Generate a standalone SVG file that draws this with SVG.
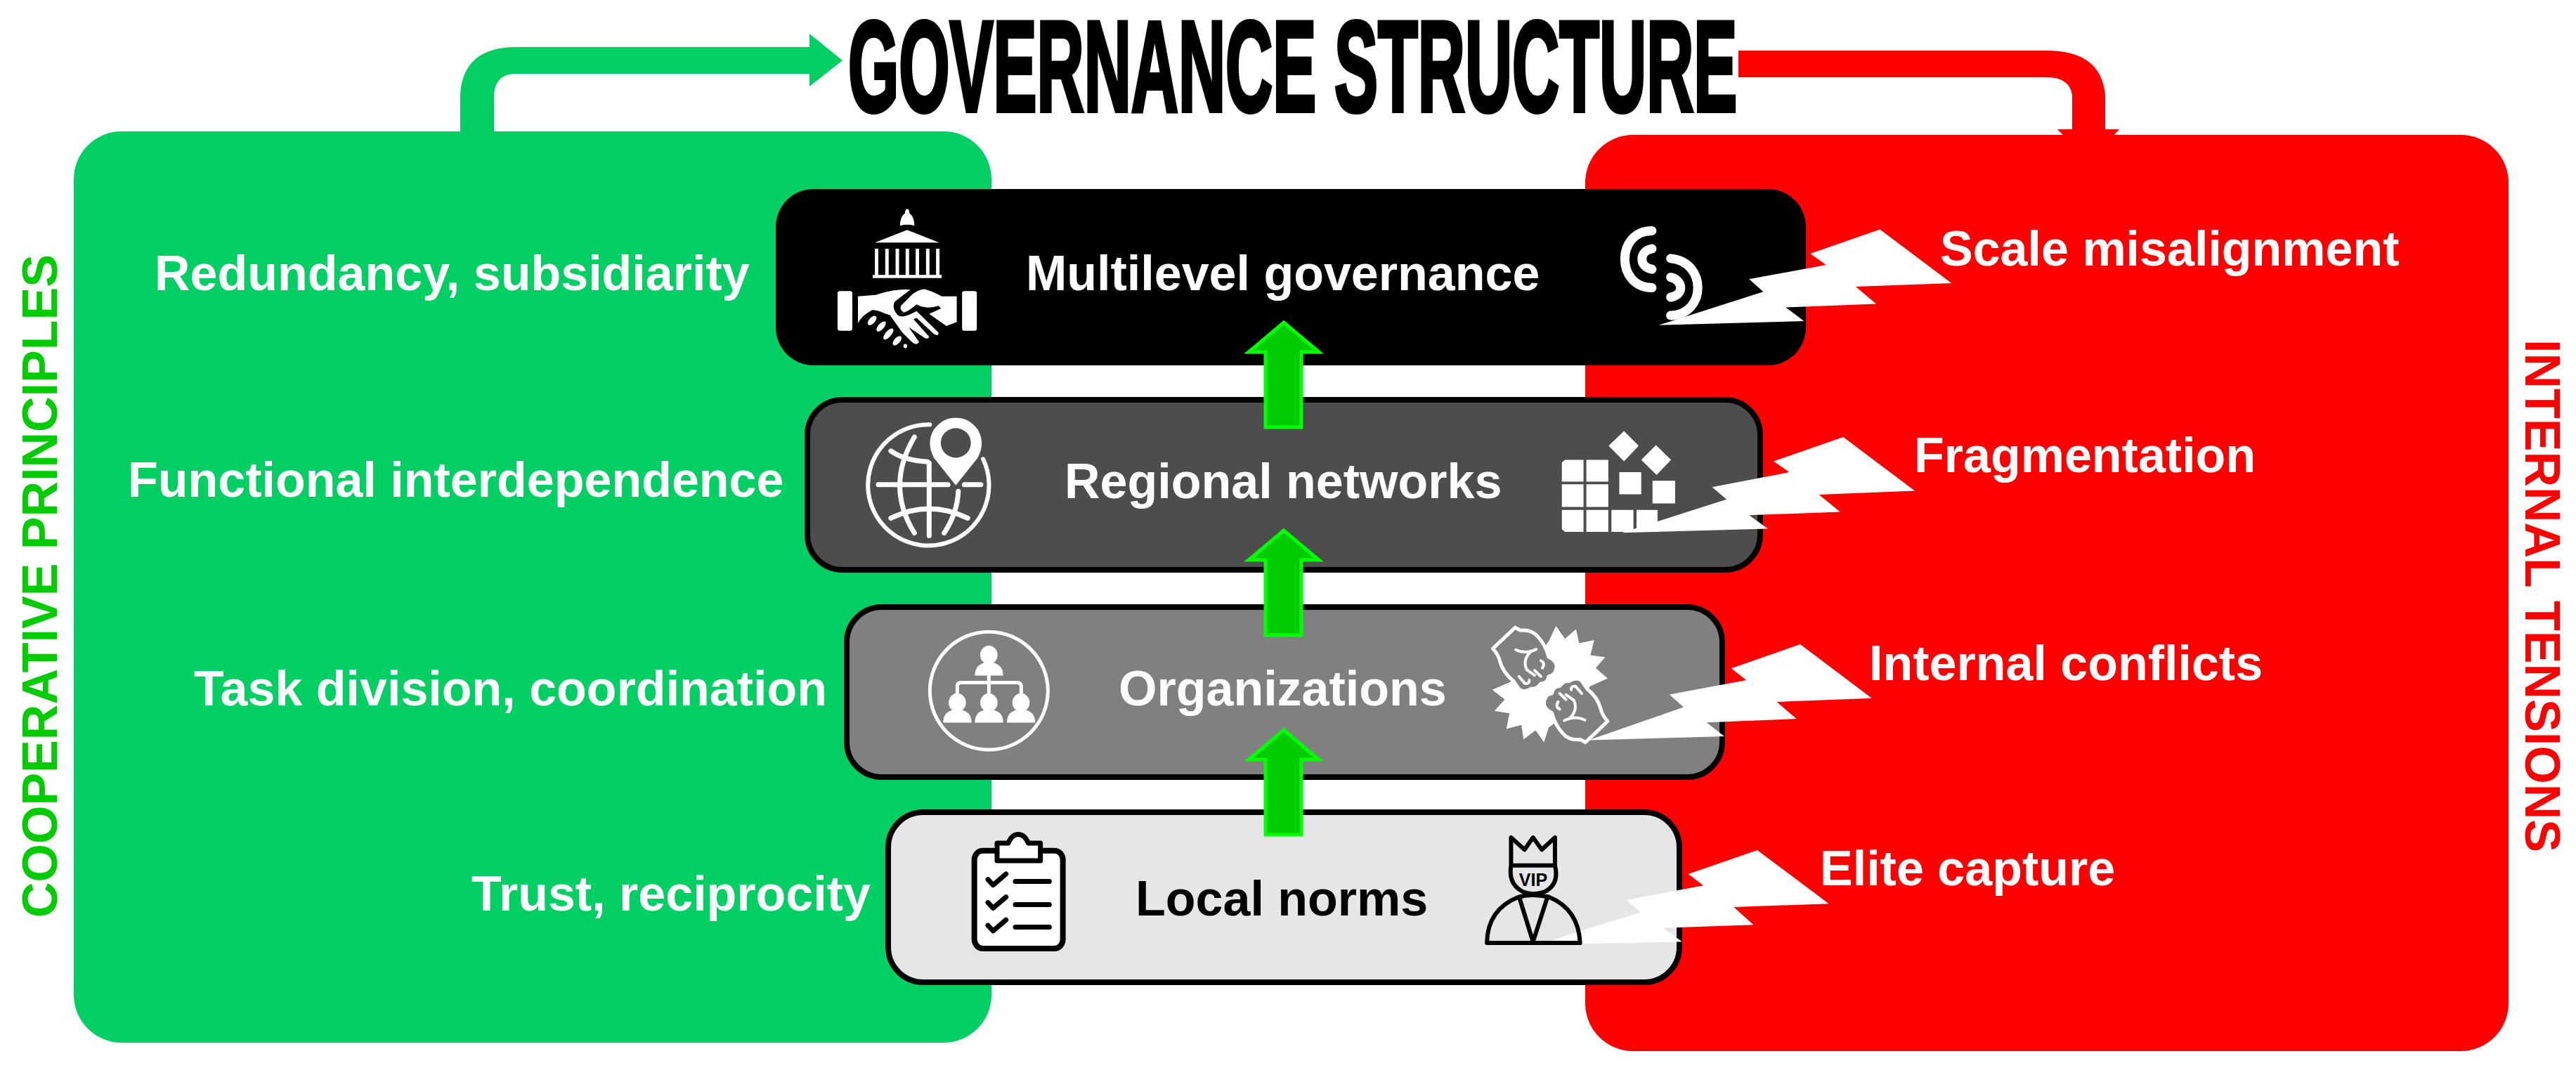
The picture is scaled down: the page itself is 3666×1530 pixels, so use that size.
<svg xmlns="http://www.w3.org/2000/svg" width="3666" height="1530" viewBox="0 0 3666 1530">
<style>
text{font-family:"Liberation Sans",Arial,sans-serif;font-weight:700;font-size:70px}
.w{fill:#fff}.k{fill:#000}
.ws{fill:none;stroke:#fff;stroke-linecap:round;stroke-linejoin:round;vector-effect:non-scaling-stroke}
.ks{fill:none;stroke:#000;stroke-linecap:round;stroke-linejoin:round;vector-effect:non-scaling-stroke}
.up{fill:#00cc00;stroke:#00ff00;stroke-width:5}
.bolt{fill:#fff}
.box{stroke:#000;stroke-width:8}
.fist{fill:#808080;stroke:#fff;stroke-width:5;stroke-linejoin:round;vector-effect:non-scaling-stroke}
</style>
<defs>
<g id="fist">
<path class="fist" d="M238 38L167 125Q185 150 190 180Q200 225 232 258L250 292Q265 310 290 290Q305 295 320 270Q340 270 345 240Q370 235 370 195Q365 170 345 160Q335 110 310 75Q290 45 255 50Z"/>
<path class="ws" stroke-width="4" d="M240 130Q270 150 305 128M290 135Q260 170 275 212L300 235M320 175Q335 185 325 205M300 215L320 240M250 240L270 270Q285 270 283 255"/>
</g>
</defs>
<rect width="3666" height="1530" fill="#fff"/>
<g id="panel-cooperative">
<rect x="105" y="187" width="1306" height="1297" rx="68" fill="#00cf64"/>
<text transform="translate(81,1306) rotate(-90)" fill="#00cc00">COOPERATIVE PRINCIPLES</text>
<text class="w" x="220" y="413">Redundancy, subsidiarity</text>
<text class="w" x="182" y="707">Functional interdependence</text>
<text class="w" x="276" y="1004">Task division, coordination</text>
<text class="w" x="671" y="1296">Trust, reciprocity</text>
</g>
<g id="panel-tensions">
<rect x="2256" y="192" width="1314" height="1304" rx="68" fill="#f00"/>
<text transform="translate(3594,483) rotate(90)" fill="#f00">INTERNAL TENSIONS</text>
<text class="w" x="2761" y="378">Scale misalignment</text>
<text class="w" x="2724" y="672">Fragmentation</text>
<text class="w" x="2660" y="968">Internal conflicts</text>
<text class="w" x="2590" y="1260">Elite capture</text>
</g>
<g id="title">
<text transform="translate(1207,158) scale(.508,1)" style="font-size:183px" stroke="#000" stroke-width="6" fill="#000">GOVERNANCE STRUCTURE</text>
</g>
<g id="node-multilevel">
<rect x="1104" y="269" width="1466" height="251" rx="54" fill="#000"/>
<text class="w" x="1460" y="413">Multilevel governance</text>
<g transform="translate(1050,240) scale(.4464,.3827)">
<path class="w" d="M540 150Q547 150 547 165Q563 180 563 212Q540 205 517 212Q517 180 533 165Q533 150 540 150Z"/>
<path class="w" d="M540 228L642 275L437 275Z"/>
<path class="w" d="M437 298h11v97h-11zM470 298h11v97h-11zM503 298h11v97h-11zM535 298h11v97h-11zM567 298h11v97h-11zM600 298h11v97h-11zM632 298h11v97h-11zM430 395h220v12H430z"/>
<rect class="w" x="318" y="455" width="47" height="148" rx="8"/>
<rect class="w" x="715" y="455" width="47" height="148" rx="8"/>
<path class="w" d="M383 475L440 470Q500 445 550 450L500 495Q490 520 510 545Q525 560 570 530L640 610Q640 625 625 615L570 555L560 560L610 625Q605 640 590 625L545 590L578 645Q570 660 555 645L525 610L485 545Q470 540 450 530L430 525Q395 545 383 575Z"/>
<path class="w" d="M698 475L650 475Q620 455 595 448Q570 450 550 475L520 510Q515 525 530 535Q545 530 570 505Q600 525 640 510L648 520L610 540L665 585L698 570Z"/>
<ellipse class="w" cx="428" cy="565" rx="10" ry="20" transform="rotate(35 428 565)"/>
<ellipse class="w" cx="457" cy="587" rx="10" ry="22" transform="rotate(35 457 587)"/>
<ellipse class="w" cx="480" cy="615" rx="10" ry="24" transform="rotate(35 480 615)"/>
<ellipse class="w" cx="508" cy="640" rx="10" ry="20" transform="rotate(35 508 640)"/>
<ellipse class="w" cx="534" cy="660" rx="6" ry="8"/>
</g>
<g transform="translate(2150,250) scale(.4464,.3827)">
<path class="ws" stroke-width="13" d="M450 205C335 205 335 415 450 417"/>
<path class="ws" stroke-width="13" d="M450 272C408 280 408 340 450 348"/>
<path class="ws" stroke-width="13" d="M510 308C625 320 625 515 510 520"/>
<path class="ws" stroke-width="13" d="M510 378C552 390 552 445 510 452"/>
</g>
</g>
<g id="node-regional">
<rect class="box" x="1149" y="569" width="1356" height="242" rx="50" fill="#4d4d4d"/>
<text class="w" x="1515" y="709">Regional networks</text>
<g transform="translate(1050,240) scale(.4464,.3827)">
<path class="ws" stroke-width="6" d="M612 952A193 225 0 1 0 782 1080"/>
<path class="ws" stroke-width="7" d="M448 1175H670M722 1175H775M610 1095V1365M488 1050Q530 1085 605 1090M488 1300Q610 1230 733 1300M563 998Q470 1180 563 1355M703 1200Q700 1280 658 1355"/>
<path class="w" fill-rule="evenodd" d="M695 1178L625 1075Q600 1020 625 970Q655 925 695 927Q735 925 765 970Q790 1020 765 1075ZM695 965A48 55 0 1 0 695 1075A48 55 0 1 0 695 965Z"/>
</g>
<g transform="translate(2150,250) scale(.4464,.3827)">
<path class="w" d="M173 1057H232V1138H163V1067ZM241 1057H311V1138H241ZM163 1148H232V1232H163ZM241 1148H311V1232H241ZM163 1243H232V1325H173L163 1315ZM241 1243H311V1325H241ZM321 1243H391V1325H321ZM401 1243H468V1325H401ZM346 1103H416V1185H346ZM452 1135H524V1219H452ZM361 950L408 1005L361 1062L312 1005ZM463 1002L511 1057L465 1113L416 1057Z"/>
</g>
</g>
<g id="node-organizations">
<rect class="box" x="1205" y="864" width="1246" height="242" rx="50" fill="#808080"/>
<text class="w" x="1592" y="1004">Organizations</text>
<g transform="translate(1250,850) scale(.3333,.3571)">
<ellipse class="ws" stroke-width="5" cx="472" cy="373" rx="252" ry="235"/>
<path class="ws" stroke-width="5" d="M472 312V385M337 385V355Q337 340 352 340H592Q610 340 610 355V385"/>
<g class="w">
<ellipse cx="472" cy="230" rx="37" ry="37"/><path d="M412 312Q412 262 472 258Q533 262 533 312Z"/>
<ellipse cx="337" cy="420" rx="37" ry="37"/><path d="M277 500Q277 450 337 446Q398 450 398 500Z"/>
<ellipse cx="472" cy="420" rx="37" ry="37"/><path d="M412 500Q412 450 472 446Q533 450 533 500Z"/>
<ellipse cx="609" cy="420" rx="37" ry="37"/><path d="M549 500Q549 450 609 446Q670 450 670 500Z"/>
</g>
</g>
<g transform="translate(2050,880) scale(.4464,.3448)">
<path class="w" d="M368 32L397 85L432 45L442 103L490 90L478 152L525 160L495 205L533 248L478 280L400 400L345 450L330 512L303 462L265 500L258 440L210 457L220 392L172 382L205 335L165 295L220 265L300 180L345 95Z"/>
<use href="#fist"/>
<use href="#fist" transform="rotate(180 350 275)"/>
</g>
</g>
<g id="node-local">
<rect class="box" x="1264" y="1156" width="1126" height="242" rx="50" fill="#e6e6e6"/>
<text class="k" x="1616" y="1303">Local norms</text>
<g transform="translate(1250,850) scale(.3333,.3571)">
<rect x="410" y="1010" width="378" height="390" rx="36" fill="#fff" stroke="#000" stroke-width="8" vector-effect="non-scaling-stroke"/>
<path d="M507 1050V980H555Q570 945 597 945Q625 945 640 980H692V1050Z" fill="#fff" stroke="#000" stroke-width="7" stroke-linejoin="round" vector-effect="non-scaling-stroke"/>
<path class="ks" stroke-width="7" d="M468 1125L490 1147L545 1103M468 1217L490 1239L545 1195M468 1308L490 1330L545 1286M585 1133H730M585 1225H730M585 1315H730"/>
</g>
</g>
<g id="connectors">
<path fill="#00cf64" d="M655 187V133Q660 67 734 67H1152V48L1199 86L1152 123V105H734Q706 105 703 133V187Z"/>
<path fill="#f00" d="M2474 72H2913Q2990 72 2996 135V184H3016L2973 230L2928 184H2949V135Q2945 110 2913 110H2474Z"/>
<polygon class="up" points="1827,459 1877,501 1852,501 1852,608 1801,608 1801,501 1777,501"/>
<polygon class="up" points="1827,755 1877,797 1852,797 1852,904 1801,904 1801,797 1777,797"/>
<polygon class="up" points="1827,1039 1877,1081 1852,1081 1852,1188 1801,1188 1801,1081 1777,1081"/>
<g transform="translate(2150,250) scale(.4464,.3827)">
<polygon class="bolt" points="1177,200 1405,400 1100,413 1165,477 877,490 935,541 472,556 805,432 760,385 1005,332 955,290"/>
<polygon class="bolt" points="1060,972 1288,1172 983,1186 1050,1250 760,1263 820,1313 355,1328 688,1204 642,1158 888,1103 838,1062"/>
</g>
<g transform="translate(2050,880) scale(.4464,.3448)">
<polygon class="bolt" points="1147,107 1375,330 1072,345 1135,415 848,430 905,487 472,503 775,367 730,315 975,255 927,207"/>
<polygon class="bolt" points="1010,957 1238,1178 935,1192 998,1265 710,1278 770,1335 310,1348 638,1213 592,1163 838,1103 790,1056"/>
</g>
</g>
<g id="icon-vip">
<g transform="translate(2050,880) scale(.4464,.3448)">
<path class="ks" stroke-width="6" d="M225 905V1020H365V905L323 955L295 905L268 955ZM225 1020Q215 1100 265 1130Q295 1145 330 1130Q380 1100 365 1020M148 1340Q150 1200 250 1150Q295 1135 345 1150Q440 1200 445 1340ZM252 1155L295 1335L340 1155"/>
</g>
<text x="2182" y="1261" text-anchor="middle" style="font-size:25px" class="k">VIP</text>
</g>
</svg>
